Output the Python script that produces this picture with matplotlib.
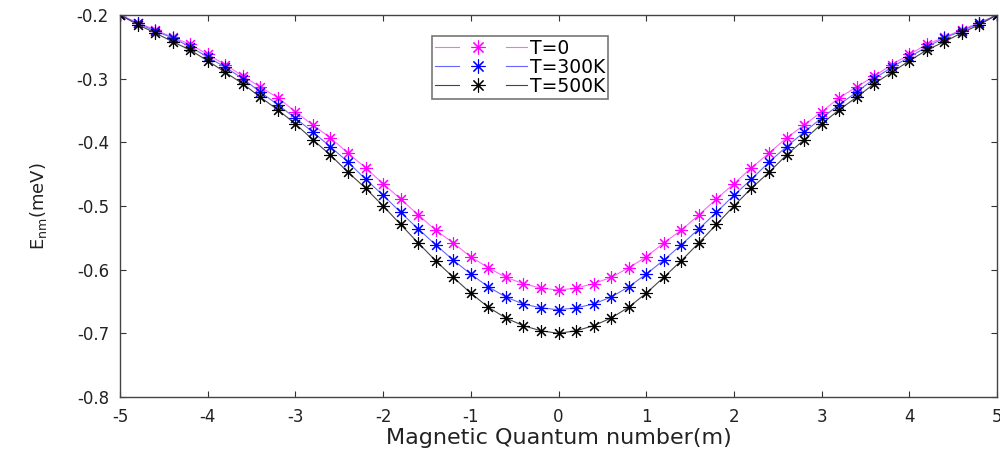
import matplotlib
matplotlib.use("Agg")
import matplotlib.pyplot as plt
from matplotlib.lines import Line2D
from matplotlib.legend_handler import HandlerBase

plt.rcParams['font.family'] = ['DejaVu Sans']

m_values = [-5.0, -4.8, -4.6, -4.4, -4.2, -4.0, -3.8, -3.6, -3.4, -3.2, -3.0,
            -2.8, -2.6, -2.4, -2.2, -2.0, -1.8, -1.6, -1.4, -1.2, -1.0,
            -0.8, -0.6, -0.4, -0.2, 0.0, 0.2, 0.4, 0.6, 0.8, 1.0,
            1.2, 1.4, 1.6, 1.8, 2.0, 2.2, 2.4, 2.6, 2.8, 3.0,
            3.2, 3.4, 3.6, 3.8, 4.0, 4.2, 4.4, 4.6, 4.8, 5.0]

E_T0 = [-0.200, -0.212, -0.223, -0.235, -0.246, -0.262, -0.278, -0.296, -0.313, -0.330, -0.352,
        -0.373, -0.393, -0.417, -0.440, -0.465, -0.489, -0.514, -0.538, -0.558, -0.580,
        -0.597, -0.612, -0.622, -0.629, -0.632, -0.629, -0.622, -0.612, -0.597, -0.580,
        -0.558, -0.538, -0.514, -0.489, -0.465, -0.440, -0.417, -0.393, -0.373, -0.352,
        -0.330, -0.313, -0.296, -0.278, -0.262, -0.246, -0.235, -0.223, -0.212, -0.200]

E_T300 = [-0.200, -0.213, -0.225, -0.236, -0.250, -0.266, -0.282, -0.300, -0.321, -0.341, -0.362,
          -0.384, -0.407, -0.431, -0.458, -0.483, -0.510, -0.536, -0.561, -0.585, -0.607,
          -0.627, -0.643, -0.654, -0.660, -0.663, -0.660, -0.654, -0.643, -0.627, -0.607,
          -0.585, -0.561, -0.536, -0.510, -0.483, -0.458, -0.431, -0.407, -0.384, -0.362,
          -0.341, -0.321, -0.300, -0.282, -0.266, -0.250, -0.236, -0.225, -0.213, -0.200]

E_T500 = [-0.200, -0.215, -0.228, -0.242, -0.255, -0.272, -0.290, -0.308, -0.329, -0.349, -0.371,
          -0.396, -0.420, -0.447, -0.472, -0.500, -0.529, -0.558, -0.586, -0.612, -0.637,
          -0.659, -0.676, -0.688, -0.696, -0.700, -0.696, -0.688, -0.676, -0.659, -0.637,
          -0.612, -0.586, -0.558, -0.529, -0.500, -0.472, -0.447, -0.420, -0.396, -0.371,
          -0.349, -0.329, -0.308, -0.290, -0.272, -0.255, -0.242, -0.228, -0.215, -0.200]

series_labels = ['T=0', 'T=300K', 'T=500K']
x_ticks = [-5, -4, -3, -2, -1, 0, 1, 2, 3, 4, 5]
y_ticks = [-0.8, -0.7, -0.6, -0.5, -0.4, -0.3, -0.2]


class GapHandler(HandlerBase):
    """MATLAB-like legend entry: line segment, marker, line segment."""
    def create_artists(self, legend, orig_handle, xdescent, ydescent,
                       width, height, fontsize, trans):
        y = height / 2.0 - ydescent
        x0 = -xdescent
        lc = orig_handle.get_color()
        lw = orig_handle.get_linewidth()
        l1 = Line2D([x0, x0 + 0.26 * width], [y, y], color=lc, lw=lw)
        l2 = Line2D([x0 + 0.77 * width, x0 + width], [y, y], color=lc, lw=lw)
        mk = Line2D([x0 + 0.47 * width], [y], linestyle='none',
                    marker=orig_handle.get_marker(),
                    markersize=orig_handle.get_markersize() + 1,
                    markeredgewidth=orig_handle.get_markeredgewidth(),
                    markeredgecolor=orig_handle.get_markeredgecolor())
        for a in (l1, l2, mk):
            a.set_transform(trans)
        return [l1, mk, l2]


fig = plt.figure(figsize=(10, 4.49), dpi=100)
ax = fig.add_axes([0.12, 0.1158, 0.877, 0.8508])

colors = ['#ff00ff', '#0000ff', '#000000']
line_colors = ['#ff66ff', '#6666ff', '#444444']
asterisk = (8, 2, 0)
handles = []
for ys, c, lc, lab in zip([E_T0, E_T300, E_T500], colors, line_colors, series_labels):
    h, = ax.plot(m_values, ys, '-', color=lc, lw=0.8, label=lab,
                 marker=asterisk, markersize=9, markeredgewidth=0.8,
                 markerfacecolor=c, markeredgecolor=c)
    handles.append(h)

ax.set_xlim(-5, 5)
ax.set_ylim(-0.8, -0.2)
ax.set_xticks(x_ticks)
ax.set_yticks(y_ticks)
ax.set_xticklabels([str(t) for t in x_ticks])
ax.set_yticklabels(['%.1f' % t for t in y_ticks])
ax.tick_params(direction='in', top=True, right=True, length=4, width=0.8,
               labelsize=12, colors='#333333', labelcolor='#222222', pad=8)
for s in ax.spines.values():
    s.set_color('#444444')
    s.set_linewidth(1.0)

ax.set_xlabel('Magnetic Quantum number(m)', fontsize=16, color='#222222', labelpad=1)
ax.set_ylabel(r'E$_{\mathrm{nm}}$(meV)', fontsize=13, color='#222222', labelpad=20)

leg = ax.legend(handles=handles, labels=series_labels,
                handler_map={Line2D: GapHandler()},
                loc='upper left', bbox_to_anchor=(0.356, 0.945), fontsize=13.5,
                frameon=True, fancybox=False, edgecolor='#555555',
                handlelength=4.9, borderpad=0.15,
                labelspacing=0.0, handletextpad=0.15, borderaxespad=0)
leg.get_frame().set_linewidth(1.2)

fig.savefig('out.png', dpi=100)
